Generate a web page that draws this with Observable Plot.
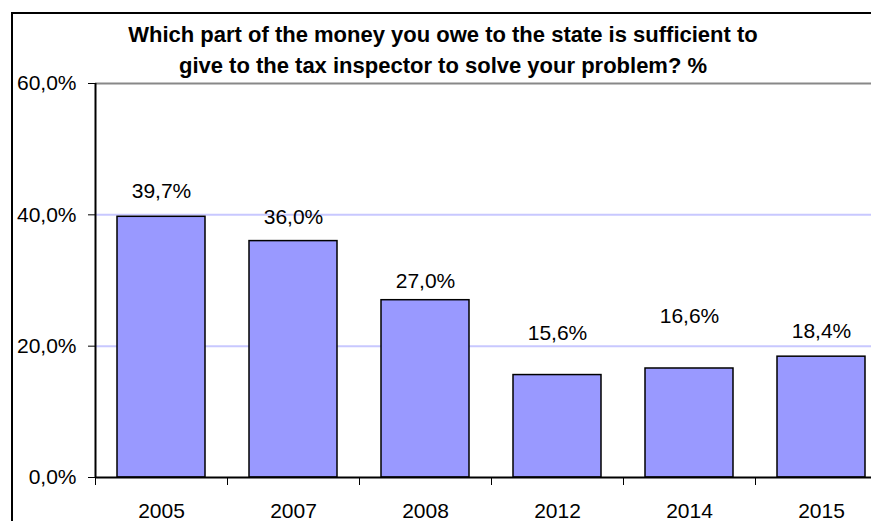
<!DOCTYPE html>
<html>
<head>
<meta charset="utf-8">
<script src="https://cdn.jsdelivr.net/npm/d3@7"></script>
<script src="https://cdn.jsdelivr.net/npm/@observablehq/plot@0.6"></script>
<style>
  html, body { margin: 0; padding: 0; background: #fff; }
  body { position: relative; width: 871px; height: 521px; overflow: hidden; }
  #frame { position: absolute; left: 11px; top: 12px; width: 900px; height: 560px; border-left: 2px solid #000; border-top: 2px solid #000; }
  #title { position: absolute; left: 43px; width: 800px; top: 19px; text-align: center;
    font-family: "Liberation Sans", Arial, sans-serif; font-weight: bold; font-size: 22px; line-height: 31px; color: #000; }
  #chart { position: absolute; left: 0; top: 0; width: 900px; }
  #chart svg { max-width: none !important; }
</style>
</head>
<body>
<div id="frame"></div>
<div id="chart"></div>
<div id="title">Which part of the money you owe to the state is sufficient to<br>give to the tax inspector to solve your problem? %</div>
<script>
const years = ["2005", "2007", "2008", "2012", "2014", "2015"];
const values = [39.7, 36.0, 27.0, 15.6, 16.6, 18.4];
const labelAt = [42.5, 38.6, 28.8, 20.9, 23.6, 21.2];
const yTicks = [0, 20, 40, 60];

const data = years.map((year, i) => ({i, year, value: values[i], label: labelAt[i]}));
const fmt = v => v.toFixed(1).replace(".", ",") + "%";

const chart = Plot.plot({
  width: 900,
  height: 521,
  marginLeft: 95,
  marginRight: 13,
  marginTop: 83,
  marginBottom: 44,
  style: {fontFamily: "'Liberation Sans', Arial, sans-serif", fontSize: "21px", color: "#000", background: "transparent", overflow: "visible", maxWidth: "none"},
  x: {domain: [0, years.length], ticks: years.length + 1, tickFormat: () => "", tickSize: 8, label: null},
  y: {domain: [0, 60], ticks: yTicks, tickFormat: fmt, tickSize: 7, tickPadding: 12, label: null},
  marks: [
    Plot.ruleY([20, 40], {stroke: "#c8c8ff", strokeWidth: 2}),
    Plot.ruleY([60], {stroke: "#888888", strokeWidth: 2}),
    Plot.rectY(data, {x1: "i", x2: d => d.i + 1, y1: 0, y2: "value", insetLeft: 22, insetRight: 22, fill: "#9999ff", stroke: "#000", strokeWidth: 1.5}),
    Plot.ruleY([0], {stroke: "#000", strokeWidth: 2}),
    Plot.ruleX([0], {y1: 0, y2: 60, stroke: "#000", strokeWidth: 2}),
    Plot.text(data, {x: d => d.i + 0.5, y: "label", text: d => fmt(d.value), lineAnchor: "bottom", fill: "#000"}),
    Plot.text(data, {x: d => d.i + 0.5, y: 0, text: "year", lineAnchor: "top", dy: 26, fill: "#000"})
  ]
});
document.getElementById("chart").appendChild(chart);
</script>
</body>
</html>
